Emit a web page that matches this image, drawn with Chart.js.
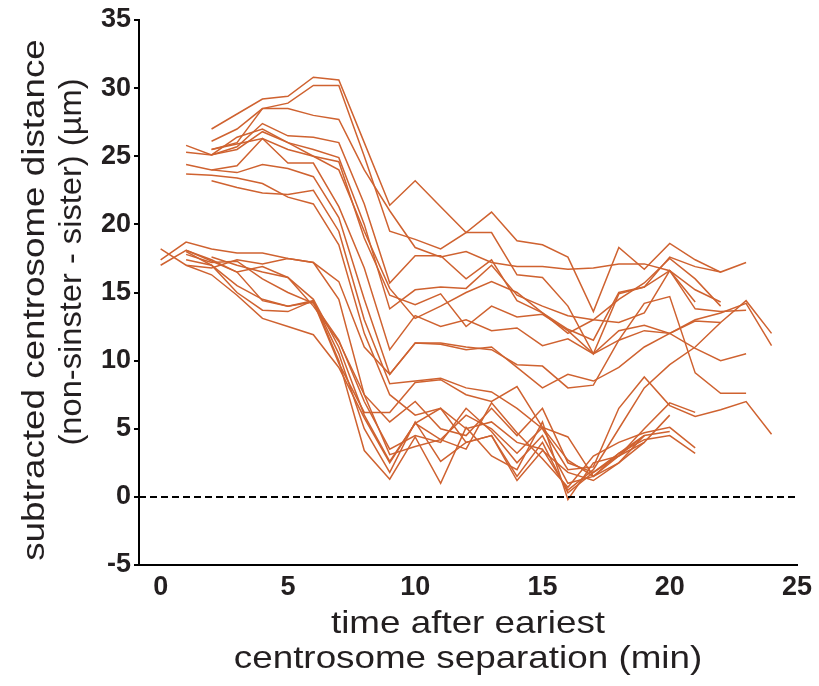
<!DOCTYPE html>
<html lang="en">
<head>
    <meta charset="UTF-8">
    <title>Centrosome distance traces</title>
    <script src="https://cdn.jsdelivr.net/npm/chart.js"></script>
    <style>
        body {
            margin: 0;
            background: #fff;
        }
        canvas {
            display: block;
        }
    </style>
</head>
<body>

<canvas id="traceChart" width="819" height="686"></canvas>

<script>
    // time (min) at which each trace starts
    const trackStarts = [2, 2, 2, 1, 1, 2, 1, 2, 2, 1, 0, 0, 0, 1, 1, 1, 1, 2, 2, 1];

    // subtracted distance (um), one value per minute from its start time
    const track01 = [27.0, 28.1, 29.2, 29.4, 30.8, 30.6, 26.0, 21.4, 23.2, 21.3, 19.4, 20.9, 18.8, 18.5, 17.6, 13.6, 18.3, 16.7, 18.6, 17.4, 16.5, 17.2];
    const track02 = [25.5, 26.0, 28.5, 28.9, 30.2, 30.2, 25.0, 19.5, 18.9, 18.2, 19.4, 19.4, 16.3, 16.1, 14.0, 10.5, 14.9, 15.4, 17.6, 16.9, 16.5];
    const track03 = [26.1, 27.0, 28.5, 28.5, 28.0, 27.7, 24.0, 21.0, 18.3, 17.6, 18.0, 17.2, 16.9, 16.9, 16.7, 16.8, 17.1, 17.1, 16.6, 14.3];
    const track04 = [25.8, 25.1, 25.7, 27.4, 26.5, 26.4, 26.0, 21.5, 15.7, 17.7, 17.7, 16.0, 17.4, 14.4, 13.5, 12.3, 11.5, 15.0, 15.4, 16.6, 15.2, 14.3];
    const track05 = [25.3, 25.1, 26.4, 27.0, 26.0, 25.5, 24.9, 20.0, 13.8, 15.2, 15.4, 15.3, 17.0, 14.8, 14.0, 13.3, 13.0, 12.8, 13.5, 16.6, 13.8, 13.6, 13.7];
    const track06 = [25.5, 25.9, 26.3, 25.5, 25.0, 24.6, 19.0, 14.8, 14.1, 14.9, 12.5, 14.0, 13.2, 13.4, 12.2, 10.5, 12.2, 12.6, 12.0, 12.9, 12.8];
    const track07 = [24.4, 24.0, 24.3, 26.3, 24.5, 24.5, 21.3, 16.8, 10.8, 13.3, 12.5, 13.0, 12.2, 12.4, 11.1, 11.6, 10.5, 11.5, 12.2, 12.0, 10.9, 10.0, 10.5];
    const track08 = [24.0, 23.8, 24.4, 24.1, 23.5, 20.5, 14.5, 9.0, 11.3, 11.3, 11.0, 10.8, 9.7, 9.6, 8.0, 8.2, 11.5, 14.2, 14.7, 9.1, 7.6, 7.6];
    const track09 = [23.2, 22.7, 22.3, 22.2, 22.5, 19.5, 13.0, 8.3, 8.5, 8.7, 8.0, 7.7, 6.5, 5.0, 2.0, 2.2, 6.5, 8.8, 6.7, 5.9, 6.4, 7.0, 4.6];
    const track10 = [23.7, 23.6, 23.4, 23.0, 22.0, 21.5, 18.5, 12.0, 7.5, 6.0, 6.5, 5.0, 5.5, 4.0, 3.5, 0.5, 2.0, 5.0, 8.0, 9.7, 11.0, 12.8, 14.4, 12.0];
    const track11 = [17.4, 18.7, 18.2, 17.9, 17.9, 17.5, 17.2, 15.8, 11.0, 9.0, 11.3, 11.2, 10.8, 11.0, 9.5, 8.0, 9.0, 8.5, 9.5, 11.0, 12.0, 13.0, 13.5, 14.2, 11.1];
    const track12 = [18.2, 17.0, 16.8, 17.4, 17.1, 17.5, 17.2, 14.5, 7.5, 5.5, 7.0, 5.0, 4.5, 6.5, 4.5, 6.5, 2.5, 1.8, 3.0, 5.0, 6.9, 6.2];
    const track13 = [17.0, 18.1, 17.4, 16.5, 16.9, 16.1, 14.5, 11.0, 6.0, 2.6, 5.4, 4.2, 3.5, 6.9, 4.7, 2.8, 0.7, 3.0, 4.0, 4.7, 5.1, 3.6];
    const track14 = [18.1, 17.3, 16.5, 14.4, 14.0, 14.4, 10.5, 5.0, 1.8, 5.5, 2.6, 4.0, 4.5, 1.5, 4.0, 0.3, 1.8, 3.2, 4.2, 4.5, 3.2];
    const track15 = [17.4, 17.0, 15.0, 13.7, 13.6, 14.4, 10.0, 3.4, 1.3, 4.4, 1.0, 5.1, 3.0, 2.0, 5.5, -0.2, 2.5, 3.0, 4.0, 6.0];
    const track16 = [17.0, 16.3, 14.8, 13.1, 12.5, 11.9, 9.5, 5.8, 2.5, 5.4, 6.5, 4.0, 4.5, 1.2, 3.4, 1.8, 1.2, 2.5, 4.5];
    const track17 = [18.0, 17.0, 15.5, 14.5, 14.0, 14.3, 9.8, 6.2, 6.2, 8.4, 8.6, 7.5, 7.0, 8.1, 5.1, 2.7, 1.5, 2.5, 4.0];
    const track18 = [17.6, 17.0, 16.5, 16.1, 14.0, 11.4, 7.5, 3.1, 3.7, 4.2, 6.0, 5.0, 3.2, 5.1, 4.4, 1.5, 3.2, 4.5, 4.8];
    const track19 = [25.1, 25.5, 26.8, 26.0, 25.0, 24.0, 19.5, 15.3, 13.1, 14.0, 15.0, 15.8, 15.0, 13.5, 12.0, 13.0, 14.5, 15.7, 17.5, 16.0, 14.0];
    const track20 = [17.8, 17.2, 17.3, 16.0, 15.0, 14.2, 11.5, 7.0, 3.5, 4.5, 4.0, 6.5, 4.8, 2.5, 4.5, 1.0, 1.5, 3.0, 4.5];

    const tracks = [track01, track02, track03, track04, track05, track06, track07, track08, track09, track10,
        track11, track12, track13, track14, track15, track16, track17, track18, track19, track20];

    // dashed reference line at zero
    const zeroLineX = [-0.85, 25];

    const yTitle = ['subtracted centrosome distance', '(non-sinster - sister) (\u00b5m)'];
    const xTitle = ['time after eariest', 'centrosome separation (min)'];

    const ORANGE = '#cf6230';
    const INK = '#231f20';
    const TITLE_FONT = '32px "Liberation Sans", Arial, sans-serif';
    const TICK_FONT = {family: '"Liberation Sans", Arial, sans-serif', size: 27, weight: 'bold'};

    const datasets = [{
        data: zeroLineX.map(x => ({x: x, y: 0})),
        borderColor: '#000',
        borderWidth: 2,
        borderDash: [7, 4],
        pointRadius: 0
    }];
    tracks.forEach((vals, k) => {
        datasets.push({
            data: vals.map((v, i) => ({x: trackStarts[k] + i, y: v})),
            borderColor: ORANGE,
            borderWidth: 1.5,
            pointRadius: 0,
            tension: 0
        });
    });

    // axis titles drawn by hand so the two lines can sit where the original puts them
    const axisTitles = {
        id: 'axisTitles',
        afterDraw(chart) {
            const ctx = chart.ctx;
            const area = chart.chartArea;
            ctx.save();
            ctx.fillStyle = INK;
            ctx.font = TITLE_FONT;
            ctx.textAlign = 'center';
            ctx.textBaseline = 'alphabetic';

            const cx = (area.left + area.right) / 2;
            xTitle.forEach((line, i) => {
                ctx.save();
                ctx.translate(cx, 633 + i * 35);
                ctx.scale(1.15, 1);
                ctx.fillText(line, 0, 0);
                ctx.restore();
            });

            const yCenters = [300, 262];
            const yStretch = [1.15, 1.02];
            yTitle.forEach((line, i) => {
                ctx.save();
                ctx.translate(44 + i * 37, yCenters[i]);
                ctx.rotate(-Math.PI / 2);
                ctx.scale(yStretch[i], 1);
                ctx.fillText(line, 0, 0);
                ctx.restore();
            });
            ctx.restore();
        }
    };

    new Chart(document.getElementById('traceChart'), {
        type: 'line',
        data: {datasets: datasets},
        options: {
            responsive: false,
            animation: false,
            layout: {padding: {left: 0, right: 22, top: 20, bottom: 0}},
            plugins: {
                legend: {display: false},
                tooltip: {enabled: false}
            },
            scales: {
                x: {
                    type: 'linear',
                    min: -0.85,
                    max: 25,
                    border: {color: '#000', width: 2},
                    grid: {display: false, drawTicks: false},
                    ticks: {
                        stepSize: 5,
                        includeBounds: false,
                        padding: 6,
                        color: INK,
                        font: TICK_FONT
                    },
                    afterFit: s => { s.height = 121; }
                },
                y: {
                    min: -5,
                    max: 35,
                    border: {color: '#000', width: 2},
                    grid: {drawOnChartArea: false, drawTicks: true, tickLength: 5, color: '#000', lineWidth: 2},
                    ticks: {
                        stepSize: 5,
                        padding: 3,
                        color: INK,
                        font: TICK_FONT
                    },
                    afterFit: s => { s.width = 139; }
                }
            }
        },
        plugins: [axisTitles]
    });
</script>
</body>
</html>
